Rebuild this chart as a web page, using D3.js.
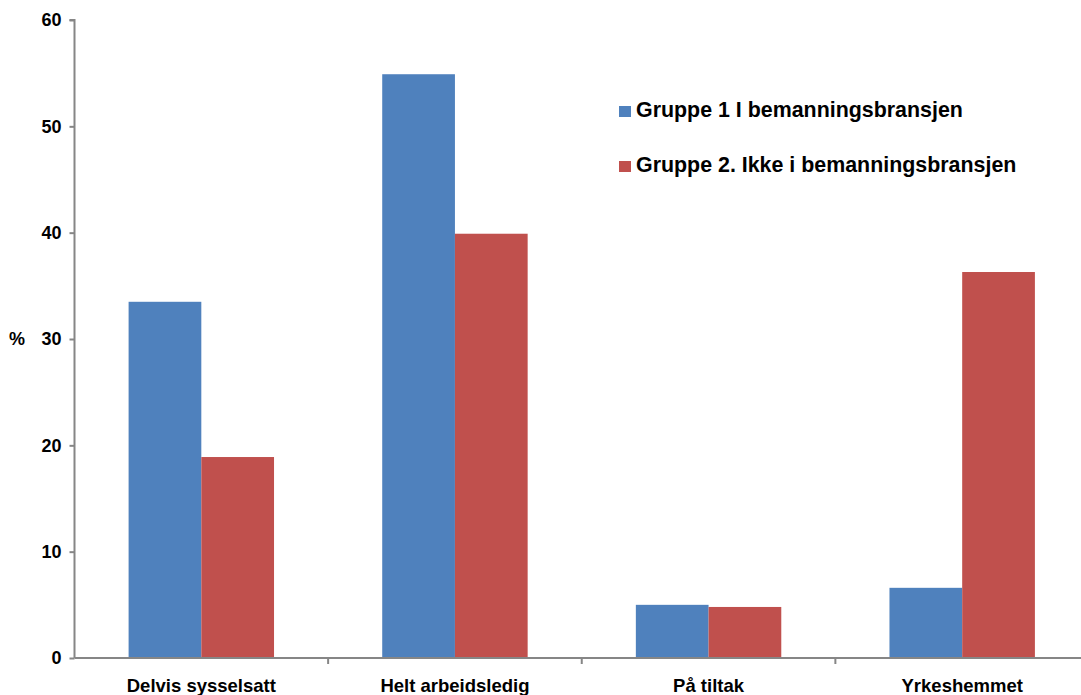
<!DOCTYPE html>
<html><head><meta charset="utf-8">
<script src="https://cdn.jsdelivr.net/npm/d3@7"></script>
<style>body{margin:0;background:#fff}svg{display:block}text{font-family:Arial,"Liberation Sans",sans-serif;font-weight:bold;fill:#000}</style>
</head><body>
<svg id="c" width="1081" height="695"></svg>
<script>
const categories = ["Delvis sysselsatt","Helt arbeidsledig","På tiltak","Yrkeshemmet"];
const seriesNames = ["Gruppe 1 I bemanningsbransjen","Gruppe 2. Ikke i bemanningsbransjen"];
const group1 = [33.5, 54.9, 5.0, 6.6];
const group2 = [18.9, 39.9, 4.8, 36.3];
const yTicks = [0,10,20,30,40,50,60];
const colors = ["#4F81BD","#C0504D"];

const svg = d3.select("#c");
const x0 = 74.5, x1 = 1089, yTop = 20, yBot = 658;
const x = d3.scaleBand().domain(categories).range([x0,x1]);
const xs = d3.scaleBand().domain([0,1]).range([0,x.bandwidth()]).paddingOuter(0.744).paddingInner(0);
const y = d3.scaleLinear().domain([0,60]).range([yBot,yTop]);

const data = categories.map((c,i)=>({c, v:[group1[i],group2[i]]}));
const g = svg.append("g");
g.selectAll("g.cat").data(data).join("g").attr("transform",d=>`translate(${x(d.c)},0)`)
 .selectAll("rect").data(d=>d.v.map((v,k)=>({v,k}))).join("rect")
 .attr("x",d=>xs(d.k)).attr("width",xs.bandwidth())
 .attr("y",d=>y(d.v)).attr("height",d=>yBot-y(d.v))
 .attr("fill",d=>colors[d.k]);

// y axis
const ya = svg.append("g").attr("transform",`translate(${x0},0)`)
  .call(d3.axisLeft(y).tickValues(yTicks).tickSize(5).tickPadding(8));
ya.select(".domain").attr("stroke","#868686").attr("stroke-width",2).attr("d",`M-5,${yTop}H0V${yBot}`);
ya.selectAll(".tick line").attr("stroke","#868686").attr("stroke-width",2);
ya.selectAll(".tick text").style("font-size","18px").style("font-family","Arial, 'Liberation Sans', sans-serif").style("font-weight","bold").attr("fill","#000");

// x axis
const xa = svg.append("g").attr("transform",`translate(0,${yBot})`);
xa.append("line").attr("x1",x0).attr("x2",1081).attr("y1",0).attr("y2",0).attr("stroke","#868686").attr("stroke-width",2);
xa.selectAll("line.t").data(categories.slice(1)).join("line").attr("class","t")
 .attr("x1",d=>x(d)).attr("x2",d=>x(d)).attr("y1",0).attr("y2",6).attr("stroke","#868686").attr("stroke-width",2);
xa.selectAll("text").data(categories).join("text")
 .attr("x",d=>x(d)+x.bandwidth()/2).attr("y",34).attr("text-anchor","middle")
 .style("font-size","18.5px").text(d=>d);

// y title
svg.append("text").attr("x",17).attr("y",345).attr("text-anchor","middle").style("font-size","18px").text("%");

// legend
const lg = svg.append("g").selectAll("g").data(seriesNames).join("g")
 .attr("transform",(d,i)=>`translate(619,${106+i*55})`);
lg.append("rect").attr("width",12).attr("height",11).attr("fill",(d,i)=>colors[i]);
lg.append("text").attr("x",17).attr("y",11).style("font-size","21.4px").text(d=>d);
</script>
</body></html>
